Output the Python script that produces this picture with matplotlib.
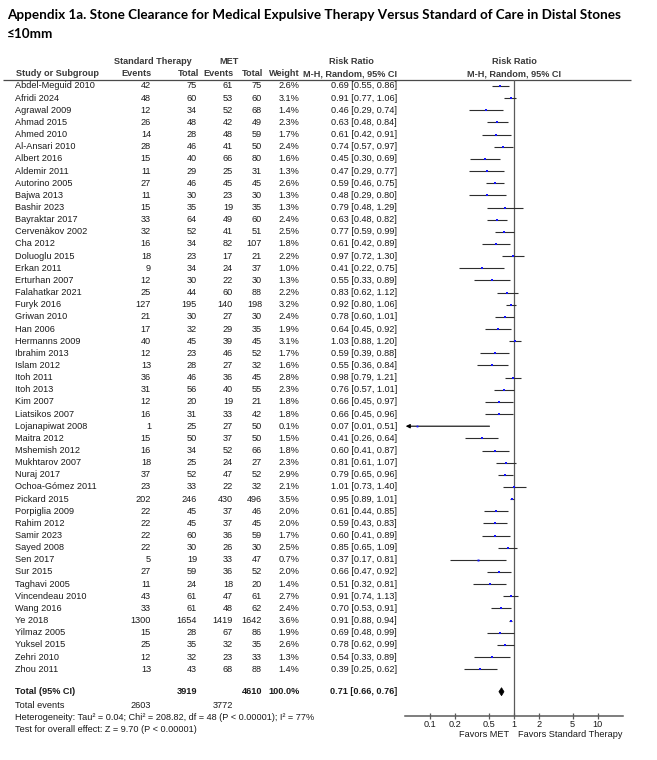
import matplotlib
matplotlib.use("Agg")
import matplotlib.pyplot as plt
from matplotlib.patches import Polygon

# ---------------- data ----------------
studies = ["Abdel-Meguid 2010", "Afridi 2024", "Agrawal 2009", "Ahmad 2015", "Ahmed 2010",
           "Al-Ansari 2010", "Albert 2016", "Aldemir 2011", "Autorino 2005", "Bajwa 2013",
           "Bashir 2023", "Bayraktar 2017", "Cervenàkov 2002", "Cha 2012", "Doluoglu 2015",
           "Erkan 2011", "Erturhan 2007", "Falahatkar 2021", "Furyk 2016", "Griwan 2010",
           "Han 2006", "Hermanns 2009", "Ibrahim 2013", "Islam 2012", "Itoh 2011",
           "Itoh 2013", "Kim 2007", "Liatsikos 2007", "Lojanapiwat 2008", "Maitra 2012",
           "Mshemish 2012", "Mukhtarov 2007", "Nuraj 2017", "Ochoa-Gómez 2011", "Pickard 2015",
           "Porpiglia 2009", "Rahim 2012", "Samir 2023", "Sayed 2008", "Sen 2017",
           "Sur 2015", "Taghavi 2005", "Vincendeau 2010", "Wang 2016", "Ye 2018",
           "Yilmaz 2005", "Yuksel 2015", "Zehri 2010", "Zhou 2011"]
std_events = [42, 48, 12, 26, 14, 28, 15, 11, 27, 11, 15, 33, 32, 16, 18, 9, 12, 25, 127, 21,
              17, 40, 12, 13, 36, 31, 12, 16, 1, 15, 16, 18, 37, 23, 202, 22, 22, 22, 22, 5,
              27, 11, 43, 33, 1300, 15, 25, 12, 13]
std_total = [75, 60, 34, 48, 28, 46, 40, 29, 46, 30, 35, 64, 52, 34, 23, 34, 30, 44, 195, 30,
             32, 45, 23, 28, 46, 56, 20, 31, 25, 50, 34, 25, 52, 33, 246, 45, 45, 60, 30, 19,
             59, 24, 61, 61, 1654, 28, 35, 32, 43]
met_events = [61, 53, 52, 42, 48, 41, 66, 25, 45, 23, 19, 49, 41, 82, 17, 24, 22, 60, 140, 27,
              29, 39, 46, 27, 36, 40, 19, 33, 27, 37, 52, 24, 47, 22, 430, 37, 37, 36, 26, 33,
              36, 18, 47, 48, 1419, 67, 32, 23, 68]
met_total = [75, 60, 68, 49, 59, 50, 80, 31, 45, 30, 35, 60, 51, 107, 21, 37, 30, 88, 198, 30,
             35, 45, 52, 32, 45, 55, 21, 42, 50, 50, 66, 27, 52, 32, 496, 46, 45, 59, 30, 47,
             52, 20, 61, 62, 1642, 86, 35, 33, 88]
weights = [2.6, 3.1, 1.4, 2.3, 1.7, 2.4, 1.6, 1.3, 2.6, 1.3, 1.3, 2.4, 2.5, 1.8, 2.2, 1.0, 1.3,
           2.2, 3.2, 2.4, 1.9, 3.1, 1.7, 1.6, 2.8, 2.3, 1.8, 1.8, 0.1, 1.5, 1.8, 2.3, 2.9, 2.1,
           3.5, 2.0, 2.0, 1.7, 2.5, 0.7, 2.0, 1.4, 2.7, 2.4, 3.6, 1.9, 2.6, 1.3, 1.4]
rr = [0.69, 0.91, 0.46, 0.63, 0.61, 0.74, 0.45, 0.47, 0.59, 0.48, 0.79, 0.63, 0.77, 0.61, 0.97,
      0.41, 0.55, 0.83, 0.92, 0.78, 0.64, 1.03, 0.59, 0.55, 0.98, 0.76, 0.66, 0.66, 0.07, 0.41,
      0.60, 0.81, 0.79, 1.01, 0.95, 0.61, 0.59, 0.60, 0.85, 0.37, 0.66, 0.51, 0.91, 0.70, 0.91,
      0.69, 0.78, 0.54, 0.39]
ci_lo = [0.55, 0.77, 0.29, 0.48, 0.42, 0.57, 0.30, 0.29, 0.46, 0.29, 0.48, 0.48, 0.59, 0.42, 0.72,
         0.22, 0.33, 0.62, 0.80, 0.60, 0.45, 0.88, 0.39, 0.36, 0.79, 0.57, 0.45, 0.45, 0.01, 0.26,
         0.41, 0.61, 0.65, 0.73, 0.89, 0.44, 0.43, 0.41, 0.65, 0.17, 0.47, 0.32, 0.74, 0.53, 0.88,
         0.48, 0.62, 0.33, 0.25]
ci_hi = [0.86, 1.06, 0.74, 0.84, 0.91, 0.97, 0.69, 0.77, 0.75, 0.80, 1.29, 0.82, 0.99, 0.89, 1.30,
         0.75, 0.89, 1.12, 1.06, 1.01, 0.92, 1.20, 0.88, 0.84, 1.21, 1.01, 0.97, 0.96, 0.51, 0.64,
         0.87, 1.07, 0.96, 1.40, 1.01, 0.85, 0.83, 0.89, 1.09, 0.81, 0.92, 0.81, 1.13, 0.91, 0.94,
         0.99, 0.99, 0.89, 0.62]
total_std, total_met = 3919, 4610
events_std, events_met = 2603, 3772
pooled_rr, pooled_lo, pooled_hi = 0.71, 0.66, 0.76
tick_vals = [0.1, 0.2, 0.5, 1, 2, 5, 10]
tick_labels = ["0.1", "0.2", "0.5", "1", "2", "5", "10"]

title_1 = "Appendix 1a. Stone Clearance for Medical Expulsive Therapy Versus Standard of Care in Distal Stones"
title_2 = "≤10mm"
heterogeneity = "Heterogeneity: Tau² = 0.04; Chi² = 208.82, df = 48 (P < 0.00001); I² = 77%"
overall = "Test for overall effect: Z = 9.70 (P < 0.00001)"

# ---------------- layout ----------------
W, H = 657, 760
fig = plt.figure(figsize=(W / 100, H / 100), dpi=100)
fig.patch.set_facecolor("white")
ov = fig.add_axes([0, 0, 1, 1])
ov.set_xlim(0, W)
ov.set_ylim(H, 0)
ov.axis("off")

FONT = ["Liberation Sans", "DejaVu Sans"]
FS = 6.6
BODY = "#1a1a1a"
HEAD = "#3a3a3a"

row0, dy = 86.0, 12.15
def row_y(i):
    return row0 + i * dy

def txt(x, y, s, ha="left", bold=False, color=BODY, fs=FS):
    return ov.text(x, y, s, ha=ha, va="center", fontsize=fs, family=FONT,
                   fontweight="bold" if bold else "normal", color=color)

# title
t1 = ov.text(7, 15, title_1, ha="left", va="center", family=["Lato", "DejaVu Sans"],
             fontweight="bold", fontsize=9.5, color="black")
t2 = ov.text(7, 34, title_2, ha="left", va="center", family=["Lato", "DejaVu Sans"],
             fontweight="bold", fontsize=9.5, color="black")
fig.canvas.draw()
r = fig.canvas.get_renderer()
wpx = t1.get_window_extent(r).width
fs_title = 9.5 * 614.0 / wpx
t1.set_fontsize(fs_title)
t2.set_fontsize(fs_title)

# headers
hy1, hy2 = 61, 73.5
txt(152.5, hy1, "Standard Therapy", ha="center", bold=True, color=HEAD)
txt(229, hy1, "MET", ha="center", bold=True, color=HEAD)
txt(351, hy1, "Risk Ratio", ha="center", bold=True, color=HEAD)
txt(514, hy1, "Risk Ratio", ha="center", bold=True, color=HEAD)
txt(16, hy2, "Study or Subgroup", bold=True, color=HEAD)
txt(151, hy2, "Events", ha="right", bold=True, color=HEAD)
txt(199, hy2, "Total", ha="right", bold=True, color=HEAD)
txt(233.5, hy2, "Events", ha="right", bold=True, color=HEAD)
txt(263, hy2, "Total", ha="right", bold=True, color=HEAD)
txt(300, hy2, "Weight", ha="right", bold=True, color=HEAD)
txt(397, hy2, "M-H, Random, 95% CI", ha="right", bold=True, color=HEAD)
txt(514, hy2, "M-H, Random, 95% CI", ha="center", bold=True, color=HEAD)
ov.plot([3, 631], [79.8, 79.8], color="#4a4a4a", lw=0.9, solid_capstyle="butt")

# columns x positions
X_NAME, X_SE, X_ST, X_ME, X_MT, X_W, X_CI = 15, 151, 197, 233, 262, 299.5, 397
for i, name in enumerate(studies):
    y = row_y(i)
    txt(X_NAME, y, name)
    txt(X_SE, y, str(std_events[i]), ha="right")
    txt(X_ST, y, str(std_total[i]), ha="right")
    txt(X_ME, y, str(met_events[i]), ha="right")
    txt(X_MT, y, str(met_total[i]), ha="right")
    txt(X_W, y, f"{weights[i]:.1f}%", ha="right")
    txt(X_CI, y, f"{rr[i]:.2f} [{ci_lo[i]:.2f}, {ci_hi[i]:.2f}]", ha="right")

y_tot = 691.7
txt(X_NAME, y_tot, "Total (95% CI)", bold=True)
txt(X_ST, y_tot, str(total_std), ha="right", bold=True)
txt(X_MT, y_tot, str(total_met), ha="right", bold=True)
txt(X_W, y_tot, "100.0%", ha="right", bold=True)
txt(X_CI, y_tot, f"{pooled_rr:.2f} [{pooled_lo:.2f}, {pooled_hi:.2f}]", ha="right", bold=True)
txt(X_NAME, 705.7, "Total events")
txt(X_SE, 705.7, str(events_std), ha="right")
txt(X_ME, 705.7, str(events_met), ha="right")
txt(X_NAME, 717.8, heterogeneity)
txt(X_NAME, 730, overall)

# ---------------- forest axes ----------------
xl, xr = 405, 623
ytop, ybot = 79.8, 716
ax = fig.add_axes([xl / W, (H - ybot) / H, (xr - xl) / W, (ybot - ytop) / H])
ax.set_xscale("log")
XMIN, XMAX = 0.05, 20
ax.set_xlim(XMIN, XMAX)
ax.set_ylim((ybot - row0) / dy, (ytop - row0) / dy)
ax.patch.set_alpha(0)
for s in ["top", "right", "left"]:
    ax.spines[s].set_visible(False)
ax.spines["bottom"].set_color("#5a5a5a")
ax.spines["bottom"].set_linewidth(1.1)
ax.set_yticks([])
ax.set_xticks(tick_vals)
ax.set_xticklabels(tick_labels)
ax.minorticks_off()
ax.tick_params(axis="x", which="major", direction="inout", length=4, width=0.9,
               color="#5a5a5a", labelsize=FS, labelcolor=BODY, pad=1)
for lab in ax.get_xticklabels():
    lab.set_family(FONT)
ax.axvline(1, color="#5a5a5a", lw=0.9, zorder=1)

LC = "#2e2e2e"
for i in range(len(studies)):
    lo, hi = ci_lo[i], ci_hi[i]
    if lo < XMIN:
        ax.annotate("", xy=(XMIN * 1.02, i), xytext=(hi, i),
                    arrowprops=dict(arrowstyle="-|>", color="black", lw=0.8,
                                    mutation_scale=6, shrinkA=0, shrinkB=0))
    else:
        ax.plot([lo, hi], [i, i], color=LC, lw=0.8, solid_capstyle="butt", zorder=2)
    ms = 1.3 + weights[i] * 0.17
    ax.plot([rr[i]], [i], marker="s", ms=ms, color="#1414ff", mew=0, zorder=3)

# pooled diamond
yd = (y_tot - row0) / dy
hh = 0.33
ax.add_patch(Polygon([(pooled_lo, yd), (pooled_rr, yd - hh), (pooled_hi, yd), (pooled_rr, yd + hh)],
                     closed=True, facecolor="black", edgecolor="black", lw=0.5, zorder=3))

txt(509.5, 734.3, "Favors MET", ha="right")
txt(518, 734.3, "Favors Standard Therapy", ha="left")

fig.savefig("out.png", dpi=100, facecolor="white")
